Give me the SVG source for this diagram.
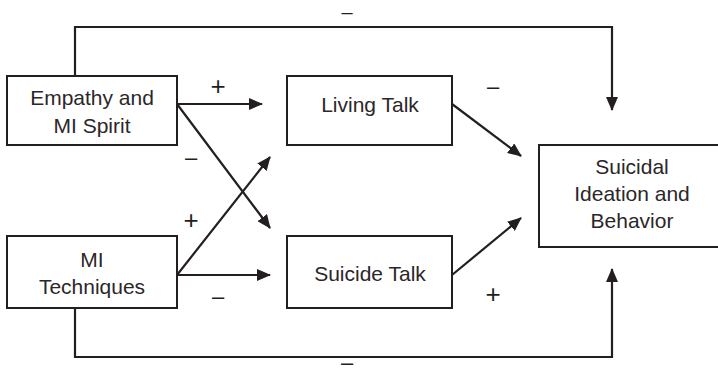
<svg xmlns="http://www.w3.org/2000/svg" width="718" height="374" viewBox="0 0 718 374">
<style>
.box{fill:#fff;stroke:#231f20;stroke-width:2}
.t{font-family:"Liberation Sans",Arial,sans-serif;font-size:21px;fill:#2b2728;text-anchor:middle}
.m{font-family:"Liberation Sans",Arial,sans-serif;font-size:22px;fill:#231f20;text-anchor:middle}
.p{font-family:"Liberation Sans",Arial,sans-serif;font-size:26px;fill:#231f20;text-anchor:middle}
.c{fill:none;stroke:#231f20;stroke-width:2.2}
</style>
<defs>
<marker id="ah" markerWidth="14" markerHeight="12" refX="13" refY="6" orient="auto" markerUnits="userSpaceOnUse">
<path d="M0,0 L14,6 L0,12 Z" fill="#231f20"/>
</marker>
</defs>
<g id="connectors">
<path class="c" d="M75,76 V27 H612 V110" marker-end="url(#ah)"/>
<path class="c" d="M75,308 V357 H612 V269" marker-end="url(#ah)"/>
<line class="c" x1="177" y1="104" x2="262" y2="104" marker-end="url(#ah)"/>
<line class="c" x1="177" y1="104" x2="270" y2="228" marker-end="url(#ah)"/>
<line class="c" x1="177" y1="275" x2="270" y2="157" marker-end="url(#ah)"/>
<line class="c" x1="177" y1="275" x2="270" y2="275" marker-end="url(#ah)"/>
<line class="c" x1="452" y1="104" x2="521" y2="156" marker-end="url(#ah)"/>
<line class="c" x1="452" y1="275" x2="521" y2="218" marker-end="url(#ah)"/>
<text class="m" x="347" y="19" style="font-size:20px">–</text>
<text class="m" x="347" y="370">–</text>
<text class="p" x="218" y="95">+</text>
<text class="m" x="191" y="165">–</text>
<text class="p" x="191" y="229">+</text>
<text class="m" x="218" y="304">–</text>
<text class="m" x="493" y="94">–</text>
<text class="p" x="493" y="303">+</text>
</g>
<g id="empathy">
<rect class="box" x="7" y="76" width="170" height="69"/>
<text class="t" x="92" y="105">Empathy and</text>
<text class="t" x="92" y="133">MI Spirit</text>
</g>
<g id="mi-techniques">
<rect class="box" x="7" y="236" width="170" height="72"/>
<text class="t" x="92" y="267">MI</text>
<text class="t" x="92" y="294">Techniques</text>
</g>
<g id="living-talk">
<rect class="box" x="287" y="76" width="165" height="69"/>
<text class="t" x="370" y="112">Living Talk</text>
</g>
<g id="suicide-talk">
<rect class="box" x="287" y="236" width="165" height="72"/>
<text class="t" x="370" y="281">Suicide Talk</text>
</g>
<g id="suicidal">
<rect class="box" x="539" y="145" width="188" height="102"/>
<text class="t" x="632" y="174">Suicidal</text>
<text class="t" x="632" y="201">Ideation and</text>
<text class="t" x="632" y="228">Behavior</text>
</g>
</svg>
